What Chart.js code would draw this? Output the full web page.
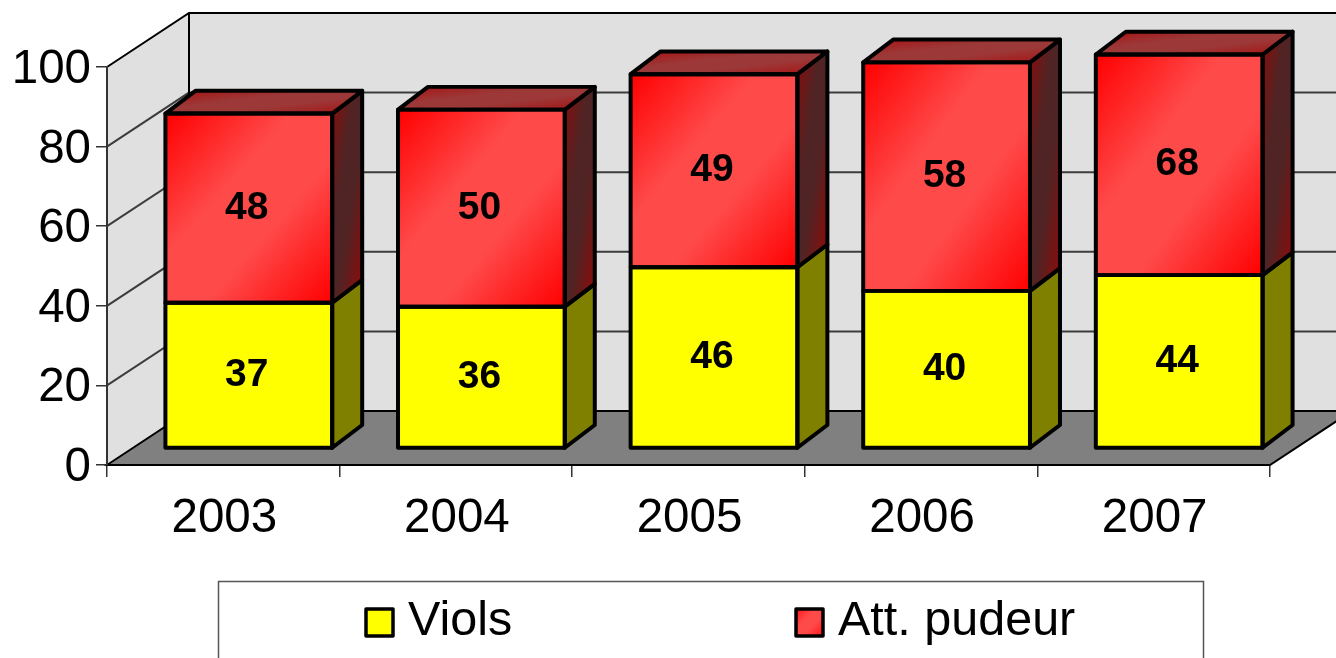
<!DOCTYPE html>
<html>
<head>
<meta charset="utf-8">
<style>
    html, body { margin: 0; background: #fff; overflow: hidden; }
    canvas { display: block; }
</style>
<script src="https://cdn.jsdelivr.net/npm/chart.js@4"></script>
</head>
<body>
<canvas id="miGrafico" width="1336" height="658"></canvas>
<script>
const categories = ['2003', '2004', '2005', '2006', '2007'];
const violsValues = [37, 36, 46, 40, 44];
const pudeurValues = [48, 50, 49, 58, 68];
const seriesNames = ['Viols', 'Att. pudeur'];
const yMax = 100;
const yStep = 20;

const fontName = '"Liberation Sans", Arial, sans-serif';

// profondeur du cadre 3D et des barres
const wallDx = 82, wallDy = -54;
const barDx = 30, barDy = -23;
// plan avant des barres par rapport aux axes
const planeTx = 25.5, planeTy = -16.5, planeSy = 0.99;

// degrade en coin: les deux coins opposes ont la couleur du bord
function cornerGradient(ctx, x, y, w, h, stops) {
    const cx = x + w / 2, cy = y + h / 2;
    const k = (w * h) / (w * w + h * h);
    const g = ctx.createLinearGradient(cx - h * k, cy - w * k, cx + h * k, cy + w * k);
    g.addColorStop(0, stops[0]);
    g.addColorStop(0.38, stops[1]);
    g.addColorStop(0.62, stops[1]);
    g.addColorStop(1, stops[0]);
    return g;
}

function poly(ctx, pts, fill) {
    ctx.beginPath();
    pts.forEach((p, i) => i ? ctx.lineTo(p[0], p[1]) : ctx.moveTo(p[0], p[1]));
    ctx.closePath();
    if (fill) { ctx.fillStyle = fill; ctx.fill(); }
    ctx.stroke();
}

const frame3d = {
    id: 'frame3d',
    beforeDraw(chart) {
        const { ctx, scales } = chart;
        const l = scales.x.left, r = scales.x.right, t = scales.y.top, b = scales.y.bottom;
        const farRight = r + wallDx;
        ctx.save();
        ctx.lineWidth = 2;
        ctx.strokeStyle = '#000';
        ctx.fillStyle = '#e0e0e0';
        ctx.fillRect(l + wallDx, t + wallDy, farRight - l - wallDx, b - t);
        ctx.beginPath();
        ctx.moveTo(l, t); ctx.lineTo(l + wallDx, t + wallDy); ctx.lineTo(l + wallDx, b + wallDy); ctx.lineTo(l, b);
        ctx.closePath();
        ctx.fill();
        // sol
        poly(ctx, [[l, b], [l + wallDx, b + wallDy], [farRight, b + wallDy], [r, b]], '#808080');
        // lignes de grille
        ctx.lineWidth = 2;
        ctx.strokeStyle = '#3c3c3c';
        scales.y.ticks.forEach(tk => {
            if (tk.value === 0 || tk.value === yMax) return;
            const py = scales.y.getPixelForValue(tk.value);
            ctx.beginPath();
            ctx.moveTo(l, py);
            ctx.lineTo(l + wallDx, py + wallDy);
            ctx.lineTo(farRight, py + wallDy);
            ctx.stroke();
        });
        ctx.lineWidth = 2;
        ctx.strokeStyle = '#000';
        ctx.beginPath();
        ctx.moveTo(l, t);
        ctx.lineTo(l + wallDx, t + wallDy);
        ctx.lineTo(farRight, t + wallDy);
        ctx.moveTo(l + wallDx, t + wallDy);
        ctx.lineTo(l + wallDx, b + wallDy);
        ctx.stroke();
        ctx.restore();
    },
    afterDatasetsUpdate(chart) {
        // l'axe s'arrete a 100: la barre 2007 est coupee au sommet
        const top = chart.scales.y.top;
        chart.data.datasets.forEach((ds, i) => {
            chart.getDatasetMeta(i).data.forEach(bar => {
                if (bar.y < top) bar.y = top;
                bar.height = bar.base - bar.y;
                if (i === 1) {
                    const bg = cornerGradient(chart.ctx, bar.x - bar.width / 2, bar.y, bar.width, bar.base - bar.y, ['#ff0000', '#ff4a4a']);
                    bar.options = { ...bar.options, backgroundColor: bg };
                }
            });
        });
    },
    beforeDatasetsDraw(chart) {
        const { ctx, scales } = chart;
        ctx.save();
        ctx.translate(planeTx, scales.y.bottom + planeTy);
        ctx.scale(1, planeSy);
        ctx.translate(0, -scales.y.bottom);
    },
    afterDatasetsDraw(chart) {
        const { ctx } = chart;
        ctx.lineJoin = 'round';
        ctx.lineWidth = 4;
        ctx.strokeStyle = '#000';
        const sideColors = ['#808000', null];
        [0, 1].forEach(i => {
            chart.getDatasetMeta(i).data.forEach(bar => {
                const x0 = bar.x - bar.width / 2, x1 = bar.x + bar.width / 2;
                const top = bar.y, bot = bar.base;
                const side = sideColors[i] || cornerGradient(ctx, x1, top + barDy, barDx, bot - top, ['#8a0c0c', '#502424']);
                poly(ctx, [[x1, top], [x1 + barDx, top + barDy], [x1 + barDx, bot + barDy], [x1, bot]], side);
                if (i === 1) {
                    const face = cornerGradient(ctx, x0, top + barDy, x1 - x0 + barDx, -barDy, ['#a81010', '#9c3838']);
                    poly(ctx, [[x0, top], [x0 + barDx, top + barDy], [x1 + barDx, top + barDy], [x1, top]], face);
                }
                ctx.strokeRect(x0, top, x1 - x0, bot - top);
            });
        });
        // valeurs sur les barres
        ctx.fillStyle = '#000';
        ctx.font = 'bold 39px ' + fontName;
        ctx.textAlign = 'center';
        ctx.textBaseline = 'middle';
        chart.data.datasets.forEach((ds, i) => {
            chart.getDatasetMeta(i).data.forEach((bar, j) => {
                ctx.fillText(String(ds.data[j]), bar.x - 2, (bar.y + bar.base) / 2);
            });
        });
        ctx.restore();
    },
    afterDraw(chart) {
        const { ctx } = chart;
        ctx.save();
        ctx.strokeStyle = '#555';
        ctx.lineWidth = 1.5;
        ctx.strokeRect(218.5, 581.5, 985, 100);
        const swatchX = [365, 795];
        const fills = ['#ffff00', cornerGradient(ctx, 795, 608, 28, 29, ['#ff1010', '#ff4a4a'])];
        ctx.font = '48.5px ' + fontName;
        ctx.textBaseline = 'middle';
        ctx.textAlign = 'left';
        chart.data.datasets.forEach((ds, i) => {
            ctx.fillStyle = fills[i];
            ctx.strokeStyle = '#000';
            ctx.lineWidth = 3.5;
            ctx.lineJoin = 'round';
            ctx.beginPath();
            ctx.rect(swatchX[i] + 1, 609, 27, 27);
            ctx.fill();
            ctx.stroke();
            ctx.fillStyle = '#000';
            ctx.fillText(ds.label, swatchX[i] + 43, 622);
        });
        ctx.restore();
    }
};

document.addEventListener('DOMContentLoaded', function () {
    const ctx = document.getElementById('miGrafico').getContext('2d');
    new Chart(ctx, {
        type: 'bar',
        data: {
            labels: categories,
            datasets: [
                { label: seriesNames[0], data: violsValues, backgroundColor: '#ffff00', borderWidth: 0, stack: 's' },
                { label: seriesNames[1], data: pudeurValues, backgroundColor: '#ff3030', borderWidth: 0, stack: 's' },
            ]
        },
        options: {
            responsive: false,
            animation: false,
            layout: { autoPadding: false, padding: { top: 67, right: 66, left: 0, bottom: 0 } },
            categoryPercentage: 1,
            barPercentage: 0.717,
            clip: false,
            scales: {
                x: {
                    stacked: true,
                    afterFit: s => { s.height = 193; },
                    grid: { drawOnChartArea: false, color: '#333', lineWidth: 1.5, tickLength: 12 },
                    border: { color: '#000', width: 2 },
                    ticks: { color: '#000', font: { family: fontName, size: 47.5 }, padding: 13, labelOffset: 1, maxRotation: 0 }
                },
                y: {
                    stacked: true,
                    min: 0,
                    max: yMax,
                    afterFit: s => { s.width = 107; },
                    grid: { drawOnChartArea: false, color: '#333', lineWidth: 1.5, tickLength: 11 },
                    border: { color: '#333', width: 2 },
                    ticks: { stepSize: yStep, color: '#000', font: { family: fontName, size: 47.5 }, padding: 5, labelOffset: 3 }
                }
            },
            plugins: {
                legend: { display: false },
                tooltip: { enabled: false }
            }
        },
        plugins: [frame3d]
    });
});
</script>
</body>
</html>
